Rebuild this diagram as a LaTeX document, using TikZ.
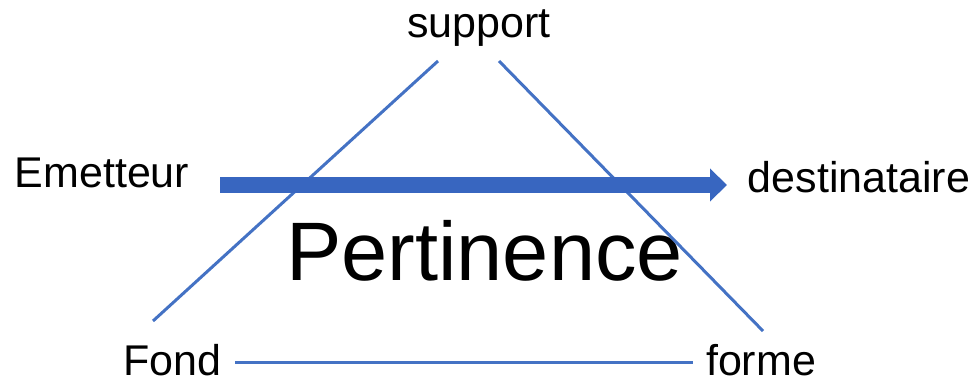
\documentclass[tikz,border=0pt]{standalone}
\usepackage{fontspec}
\setmainfont{Liberation Sans}
\usetikzlibrary{arrows.meta}
\definecolor{lineblue}{RGB}{68,114,196}
\definecolor{arrowblue}{RGB}{56,102,192}
\tikzset{
  lbl/.style={anchor=base, inner sep=0pt, font=\fontsize{43}{50}\selectfont, text=black},
  biglbl/.style={anchor=base, inner sep=0pt, font=\fontsize{83}{90}\selectfont, text=black},
  edge/.style={draw=lineblue, line width=3pt},
  flow/.style={draw=arrowblue, line width=15pt, -{Triangle[length=17pt,width=32pt]}}
}
\begin{document}
\begin{tikzpicture}[x=1pt,y=-1pt]
\useasboundingbox (0,0) rectangle (976,382);
\node[lbl] (support) at (479,38) {support};
\node[lbl] (emetteur) at (102,187) {Emetteur};
\node[lbl] (dest) at (859,193) {destinataire};
\node[biglbl] (pert) at (484.5,280) {Pertinence};
\node[lbl, text depth=0pt] (fond) at (172.5,375) {Fond};
\node[lbl, text depth=0pt] (forme) at (761,375) {forme};
\coordinate (lt) at (438,61);
\coordinate (lb) at (153,321);
\coordinate (rt) at (499,61);
\coordinate (rb) at (763,331);
\coordinate (hl) at (235,362);
\coordinate (hr) at (693,362);
\coordinate (as) at (220,185);
\coordinate (ae) at (727,185);
\draw[edge] (lt) -- (lb);
\draw[edge] (rt) -- (rb);
\draw[edge] (hl) -- (hr);
\draw[flow] (as) -- (ae);
\end{tikzpicture}
\end{document}
